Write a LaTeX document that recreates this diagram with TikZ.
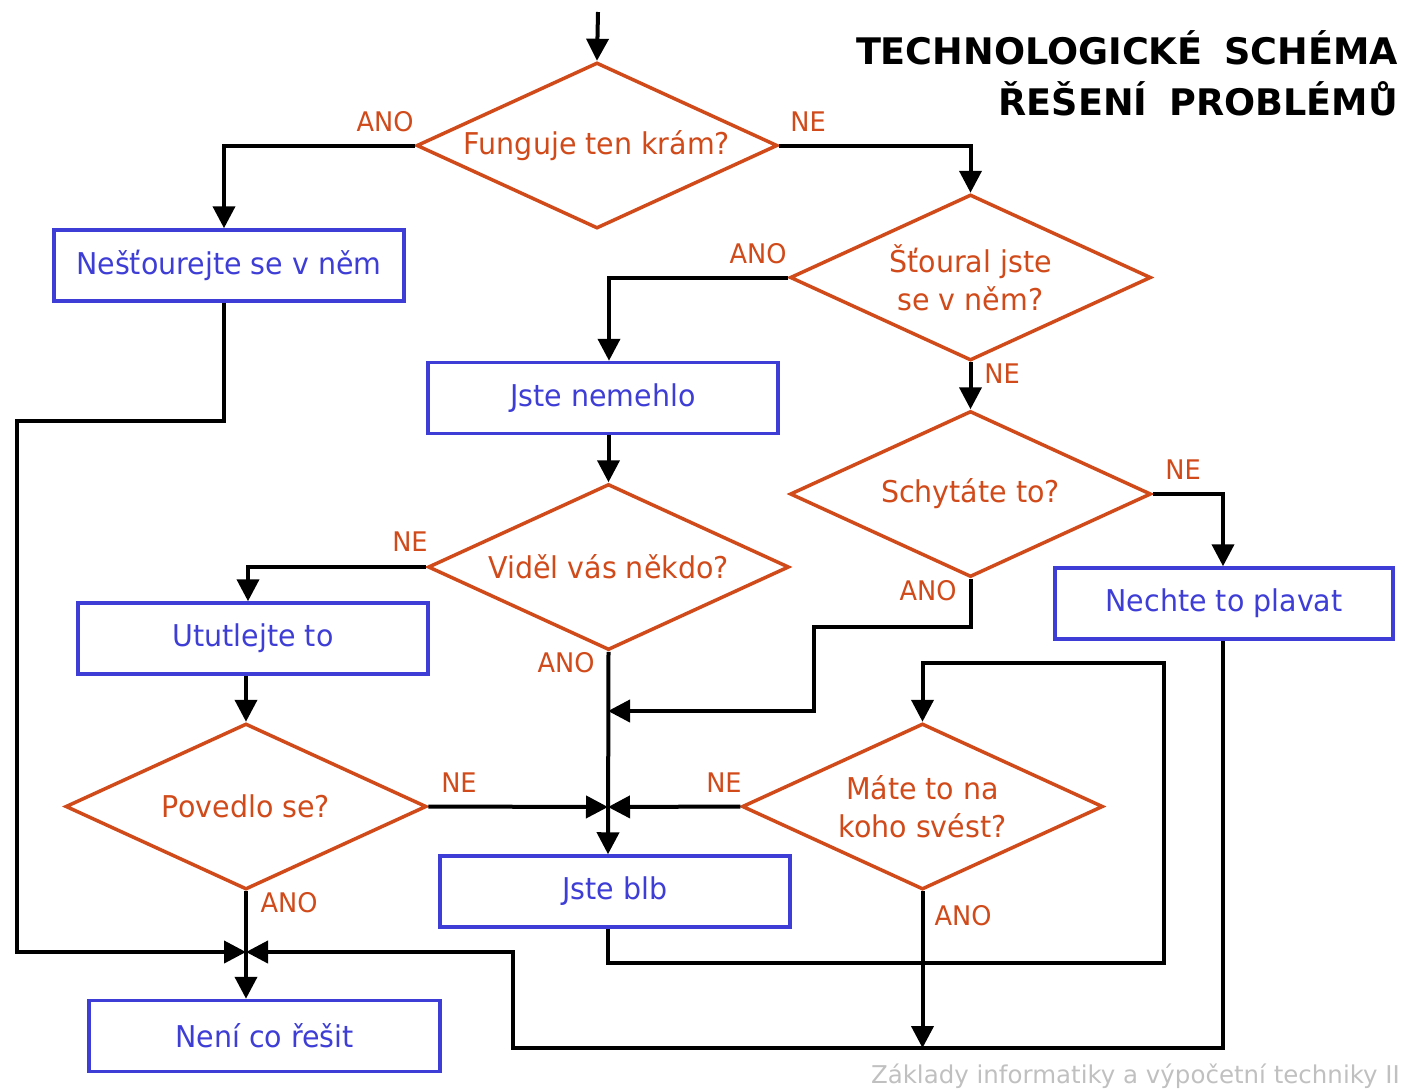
\documentclass[tikz,border=0pt]{standalone}
\usepackage{fontspec}
\setmainfont[FakeStretch=0.95]{DejaVu Sans}
\newfontfamily\titlefont{DejaVu Sans}
\usetikzlibrary{shapes.geometric,arrows.meta}
\definecolor{orng}{RGB}{208,74,26}
\definecolor{blu}{RGB}{62,62,214}
\definecolor{footgray}{RGB}{192,192,192}
\begin{document}
\begin{tikzpicture}[x=1pt,y=-1pt,
  decision/.style={diamond, draw=orng, line width=3.5pt, text=orng, inner sep=0pt,
    shape aspect=2.17, minimum width=361pt, minimum height=166pt, align=center,
    font=\fontsize{30}{38}\selectfont},
  action/.style={rectangle, draw=blu, line width=3.5pt, text=blu, inner sep=0pt,
    minimum width=350pt, minimum height=71pt, font=\fontsize{30}{36}\selectfont},
  lbl/.style={text=orng, inner sep=0pt, font=\fontsize{27}{30}\selectfont},
  flow/.style={line width=4pt, -{Triangle[length=22pt,width=22pt]}}]
\useasboundingbox (0,0) rectangle (1405,1088);

% title and footer
\node (t1) [anchor=base east, inner sep=0pt, font=\titlefont\bfseries\fontsize{36.6}{40}\selectfont]
  at (1398,64) {TECHNOLOGICKÉ\hspace{0.6em}SCHÉMA};
\node (t2) [anchor=base east, inner sep=0pt, font=\titlefont\bfseries\fontsize{36.6}{40}\selectfont]
  at (1398,115) {ŘEŠENÍ\hspace{0.6em}PROBLÉMŮ};
\node (foot) [anchor=base east, inner sep=0pt, text=footgray, font=\titlefont\fontsize{24.5}{26}\selectfont]
  at (1400,1083) {Základy informatiky a výpočetní techniky II};

% decisions
\node (D1) [decision] at (597,145.5) {Funguje ten krám?};
\node (D2) [decision] at (970.5,277.5) {Šťoural jste\\se v něm?};
\node (D3) [decision] at (970.5,494) {Schytáte to?};
\node (D4) [decision] at (608.5,567) {Viděl vás někdo?};
\node (D5) [decision] at (246,806.5) {Povedlo se?};
\node (D6) [decision] at (922.5,806.5) {Máte to na\\koho svést?};

% actions
\node (B1) [action] at (229,265.5) {Nešťourejte se v něm};
\node (B2) [action] at (603,398) {Jste nemehlo};
\node (B3) [action] at (253,638.5) {Ututlejte to};
\node (B4) [action, minimum width=338pt] at (1224,603.5) {Nechte to plavat};
\node (B5) [action] at (615,891.5) {Jste blb};
\node (B6) [action, minimum width=351pt] at (264.5,1036) {Není co řešit};

% answer labels
\node (l1) [lbl] at (385,122) {ANO};
\node (l2) [lbl] at (808,122) {NE};
\node (l3) [lbl] at (758,254) {ANO};
\node (l4) [lbl] at (1002,374) {NE};
\node (l5) [lbl] at (1183,470) {NE};
\node (l6) [lbl] at (928,591) {ANO};
\node (l7) [lbl] at (410,542) {NE};
\node (l8) [lbl] at (566,663) {ANO};
\node (l9) [lbl] at (459,783) {NE};
\node (l10) [lbl] at (724,783) {NE};
\node (l11) [lbl] at (289,903) {ANO};
\node (l12) [lbl] at (963,916) {ANO};

% junction points
\coordinate (start) at (598,12);
\coordinate (j1) at (608,807);
\coordinate (j2) at (246,952);
\coordinate (j3) at (608,711);

% connectors
\draw[flow] (start) -- (D1.north);
\draw[flow] (D1.west) -| ([xshift=-5pt]B1.north);
\draw[flow] (D1.east) -| (D2.north);
\draw[flow] (D2.west) -| ([xshift=6pt]B2.north);
\draw[flow] (D2.south) -- (D3.north);
\draw[flow] (D4.north |- B2.south) -- (D4.north);
\draw[flow] (D4.west) -| ([xshift=-5pt]B3.north);
\draw[flow] (D3.east) -| ([xshift=-1pt]B4.north);
\draw[flow] (D4.south) -- ([xshift=-7pt]B5.north);
\draw[flow] (D3.south) |- (814,627) |- (j3);
\draw[flow] (D5.east) -- (j1);
\draw[flow] (D6.west) -- (j1);
\draw[flow] (D5.north |- B3.south) -- (D5.north);
\draw[flow] (D5.south) -- (D5.south |- B6.north);
\draw[flow] ([xshift=-5pt]B1.south) |- (17,421) |- (j2);
\draw[flow] ([xshift=-1pt]B4.south) |- (513,1048) |- (j2);
\draw[flow] ([xshift=-7pt]B5.south) |- (1164,963) |- (D6.north |- 0,663) -- (D6.north);
\draw[flow] (D6.south) -- (D6.south |- 0,1048);
\end{tikzpicture}
\end{document}
